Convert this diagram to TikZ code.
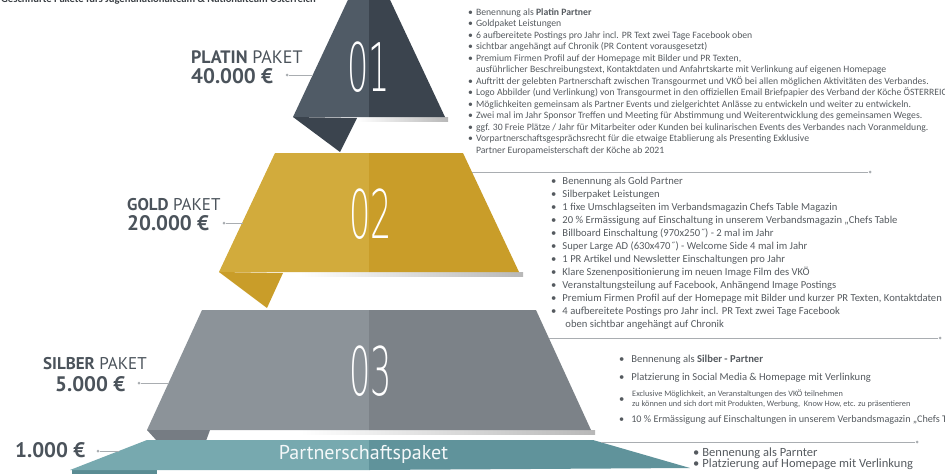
\documentclass[tikz,border=0pt]{standalone}
\usepackage{fontspec}
\usepackage{graphicx}
\setmainfont{Carlito}
\newfontfamily\labfont{PT Sans}
\newfontfamily\numfont{DejaVu Sans ExtraLight}
\definecolor{platinL}{HTML}{505B66}
\definecolor{platinR}{HTML}{3B444E}
\definecolor{goldL}{HTML}{D2AB3C}
\definecolor{goldR}{HTML}{C99D29}
\definecolor{silverL}{HTML}{8C9399}
\definecolor{silverR}{HTML}{7C8288}
\definecolor{silverF}{HTML}{767C83}
\definecolor{tealL}{HTML}{77A9AF}
\definecolor{tealR}{HTML}{60939B}
\definecolor{tealF}{HTML}{5A8C93}
\definecolor{labc}{HTML}{4B535B}
\definecolor{lnc}{HTML}{A9ADB1}
\definecolor{listc}{HTML}{555A5F}
\definecolor{headc}{HTML}{3A3F44}
\tikzset{
  lab/.style={font=\labfont, text=labc, inner sep=0, anchor=base west},
  dotn/.style={circle, fill=lnc, inner sep=0, minimum size=3pt},
  conn/.style={draw=lnc, line width=0.7pt},
  num/.style={text=white, inner sep=0},
  lst/.style={inner sep=0, anchor=north west, text=listc, align=left},
  shadowstrip/.style={left color=white, right color=black!28},
}
\begin{document}
\begin{tikzpicture}[x=1pt,y=-1pt]
\useasboundingbox (0,0) rectangle (945,474);
% header (cut off at top)
\node[inner sep=0, anchor=base west, text=headc, font=\fontsize{10.6}{10.6}\selectfont\bfseries] (head) at (1,2.5) {Geschnürte Pakete fürs Jugendnationalteam \& Nationalteam Österreich};
% ---------- Platin triangle ----------
\fill[shadowstrip] (357,117) rectangle (448,121);
\fill[platinL] (369,-45) -- (293,117) -- (369,117) -- cycle;
\fill[platinR] (369,-45) -- (369,117) -- (445,117) -- cycle;
\fill[platinR] (293,117) -- (357,118) -- (340,152) -- cycle;
\node[num] (n01) at (369,67.5) {\scalebox{0.5}[1]{\numfont\fontsize{67}{67}\selectfont 01}};
% ---------- Gold trapezoid ----------
\fill[shadowstrip] (300,272) rectangle (523,276);
\fill[goldL] (275,153) -- (369,153) -- (369,272) -- (219,272) -- cycle;
\fill[goldR] (369,153) -- (463,153) -- (519,272) -- (369,272) -- cycle;
\fill[goldR] (219,272) -- (283,273) -- (267,308) -- cycle;
\node[num] (n02) at (371,214.5) {\scalebox{0.5}[1]{\numfont\fontsize{67}{67}\selectfont 02}};
% ---------- Silver trapezoid ----------
\fill[shadowstrip] (300,430) rectangle (595,434);
\fill[silverL] (202,310) -- (369,310) -- (369,430) -- (147,430) -- cycle;
\fill[silverR] (369,310) -- (536,310) -- (591,430) -- (369,430) -- cycle;
\fill[silverF] (147,430) -- (210,430) -- (206,441) -- (157,441) -- cycle;
\node[num] (n03) at (371,371) {\scalebox{0.5}[1]{\numfont\fontsize{67}{67}\selectfont 03}};
% ---------- Teal band ----------
\fill[tealF] (72,469) -- (157,469) -- (157,474) -- (72,474) -- cycle;
\fill[tealL] (147,440) -- (369,440) -- (369,470) -- (70,470) -- cycle;
\fill[tealR] (369,440) -- (593,440) -- (690,468) -- (369,470) -- cycle;
\node[inner sep=0, text=white!92!tealL, font=\labfont\fontsize{20}{20}\selectfont] (partner) at (363.5,454.5) {Partnerschaftspaket};
% ---------- labels left ----------
\node[lab] (platinA) at (191,63) {\fontsize{18}{18}\selectfont\textbf{PLATIN} PAKET};
\node[lab] (platinB) at (191,83) {\fontsize{21}{21}\selectfont\textbf{40.000 €}};
\node[lab] (goldA) at (127,210) {\fontsize{17}{17}\selectfont\textbf{GOLD} PAKET};
\node[lab] (goldB) at (127,230) {\fontsize{21}{21}\selectfont\textbf{20.000 €}};
\node[lab] (silberA) at (43,369) {\fontsize{17}{17}\selectfont\textbf{SILBER} PAKET};
\node[lab] (silberB) at (55,391) {\fontsize{21}{21}\selectfont\textbf{5.000 €}};
\node[lab] (baseB) at (15,457) {\fontsize{21}{21}\selectfont\textbf{1.000 €}};
% connectors left
\node[dotn] (dp) at (287,75) {};
\coordinate (ep) at (313,75);
\draw[conn] (dp) -- (ep);
\node[dotn] (dg) at (224,223) {};
\coordinate (eg) at (243,223);
\draw[conn] (dg) -- (eg);
\node[dotn] (ds) at (139,383) {};
\coordinate (es) at (169,383);
\draw[conn] (ds) -- (es);
\node[dotn] (dt) at (98,451) {};
\coordinate (et) at (119,451);
\draw[conn] (dt) -- (et);
% connectors right
\coordinate (sg) at (472,172);
\node[dotn] (rg) at (870,172) {};
\draw[conn] (sg) -- (rg);
\coordinate (ss) at (549,338);
\node[dotn] (rs) at (940,338) {};
\draw[conn] (ss) -- (rs);
\coordinate (st) at (601,442);
\node[dotn] (rt) at (917,442) {};
\draw[conn] (st) -- (rt);
% ---------- Platin list ----------
\node[lst] (platinlist) at (468,7) {\fontsize{9.7}{11.5}\selectfont
\begin{tabular}{@{}l@{\hspace{3pt}}l@{}}
•& Benennung als \textbf{Platin Partner}\\
•& Goldpaket Leistungen\\
•& 6 aufbereitete Postings pro Jahr incl. PR Text zwei Tage Facebook oben\\
•& sichtbar angehängt auf Chronik (PR Content vorausgesetzt)\\
•& Premium Firmen Profil auf der Homepage mit Bilder und PR Texten,\\
 & ausführlicher Beschreibungstext, Kontaktdaten und Anfahrtskarte mit Verlinkung auf eigenen Homepage\\
•& Auftritt der gelebten Partnerschaft zwischen Transgourmet und VKÖ bei allen möglichen Aktivitäten des Verbandes.\\
•& Logo Abbilder (und Verlinkung) von Transgourmet in den offiziellen Email Briefpapier des Verband der Köche ÖSTERREIC\\
•& Möglichkeiten gemeinsam als Partner Events und zielgerichtet Anlässe zu entwickeln und weiter zu entwickeln.\\
•& Zwei mal im Jahr Sponsor Treffen und Meeting für Abstimmung und Weiterentwicklung des gemeinsamen Weges.\\
•& ggf. 30 Freie Plätze / Jahr für Mitarbeiter oder Kunden bei kulinarischen Events des Verbandes nach Voranmeldung.\\
•& Vorpartnerschaftsgesprächsrecht für die etwaige Etablierung als Presenting Exklusive\\
 & Partner Europameisterschaft der Köche ab 2021
\end{tabular}};
% ---------- Gold list ----------
\node[lst] (goldlist) at (551,175.5) {\fontsize{10.6}{13}\selectfont
\begin{tabular}{@{}l@{\hspace{6pt}}l@{}}
•& Benennung als Gold Partner\\
•& Silberpaket Leistungen\\
•& 1 fixe Umschlagseiten im Verbandsmagazin Chefs Table Magazin\\
•& 20 \% Ermässigung auf Einschaltung in unserem Verbandsmagazin „Chefs Table\\
•& Billboard Einschaltung (970x250˝) - 2 mal im Jahr\\
•& Super Large AD (630x470˝) - Welcome Side 4 mal im Jahr\\
•& 1 PR Artikel und Newsletter Einschaltungen pro Jahr\\
•& Klare Szenenpositionierung im neuen Image Film des VKÖ\\
•& Veranstaltungsteilung auf Facebook, Anhängend Image Postings\\
•& Premium Firmen Profil auf der Homepage mit Bilder und kurzer PR Texten, Kontaktdaten\\
•& 4 aufbereitete Postings pro Jahr incl. PR Text zwei Tage Facebook\\
 & \hspace{3pt}oben sichtbar angehängt auf Chronik
\end{tabular}};
% ---------- Silber list ----------
\node[lst, anchor=base west, font=\fontsize{10.6}{13}\selectfont] (s1) at (619,362.5) {•\hspace{7pt}Bennenung als \textbf{Silber - Partner}};
\node[lst, anchor=base west, font=\fontsize{10.6}{13}\selectfont] (s2) at (619,380.5) {•\hspace{7pt}Platzierung in Social Media \& Homepage mit Verlinkung};
\node[lst, anchor=base west, font=\fontsize{10.6}{13}\selectfont] (s3b) at (619,402) {•};
\node[lst, anchor=base west, font=\fontsize{8.3}{10}\selectfont] (s3) at (632,396.5) {Exclusive Möglichkeit, an Veranstaltungen des VKÖ teilnehmen};
\node[lst, anchor=base west, font=\fontsize{8.3}{10}\selectfont] (s3c) at (632,406.5) {zu können und sich dort mit Produkten, Werbung,\ \ Know How, etc. zu präsentieren};
\node[lst, anchor=base west, font=\fontsize{10.2}{13}\selectfont] (s4) at (619,422.5) {•\hspace{7pt}10 \% Ermässigung auf Einschaltungen in unserem Verbandsmagazin „Chefs Table};
% ---------- Teal list ----------
\node[lst, anchor=base west, font=\fontsize{12.5}{11.6}\selectfont] (t1) at (693,456) {•\hspace{3pt}Bennenung als Parnter};
\node[lst, anchor=base west, font=\fontsize{12.5}{11.6}\selectfont] (t2) at (693,467.6) {•\hspace{3pt}Platzierung auf Homepage mit Verlinkung};
\end{tikzpicture}
\end{document}
